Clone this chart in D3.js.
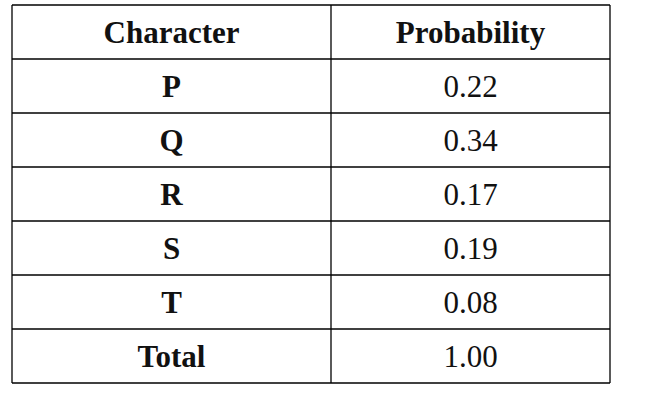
<!DOCTYPE html><html><head><script src="https://cdn.jsdelivr.net/npm/d3@7"></script>
<style>body{margin:0;background:#fff}</style></head><body><svg id="c" width="667" height="402"></svg>
<script>
const headers=["Character","Probability"];
const characters=["P","Q","R","S","T","Total"];
const probabilities=["0.22","0.34","0.17","0.19","0.08","1.00"];
const svg=d3.select("#c");
const x=d3.scaleLinear().domain([0,1,2]).range([12,331,610]);
const y=d3.scaleLinear().domain([0,7]).range([5,383]);
const rows=[headers,...characters.map((c,i)=>[c,probabilities[i]])];
const g=svg.append("g").attr("stroke","#000").attr("stroke-width",1.3);
d3.range(8).forEach(i=>g.append("line").attr("x1",x(0)).attr("x2",x(2)).attr("y1",y(i)).attr("y2",y(i)));
[0,1,2].forEach(j=>g.append("line").attr("x1",x(j)).attr("x2",x(j)).attr("y1",y(0)).attr("y2",y(7)));
rows.forEach((r,i)=>r.forEach((t,j)=>{
 svg.append("text").attr("x",(x(j)+x(j+1))/2).attr("y",(y(i)+y(i+1))/2+11)
 .attr("text-anchor","middle").attr("font-family","Liberation Serif, serif")
 .attr("font-size",31).attr("font-weight",(i===0||j===0)?"bold":"normal").attr("fill","#111").text(t);
}));
</script></body></html>
